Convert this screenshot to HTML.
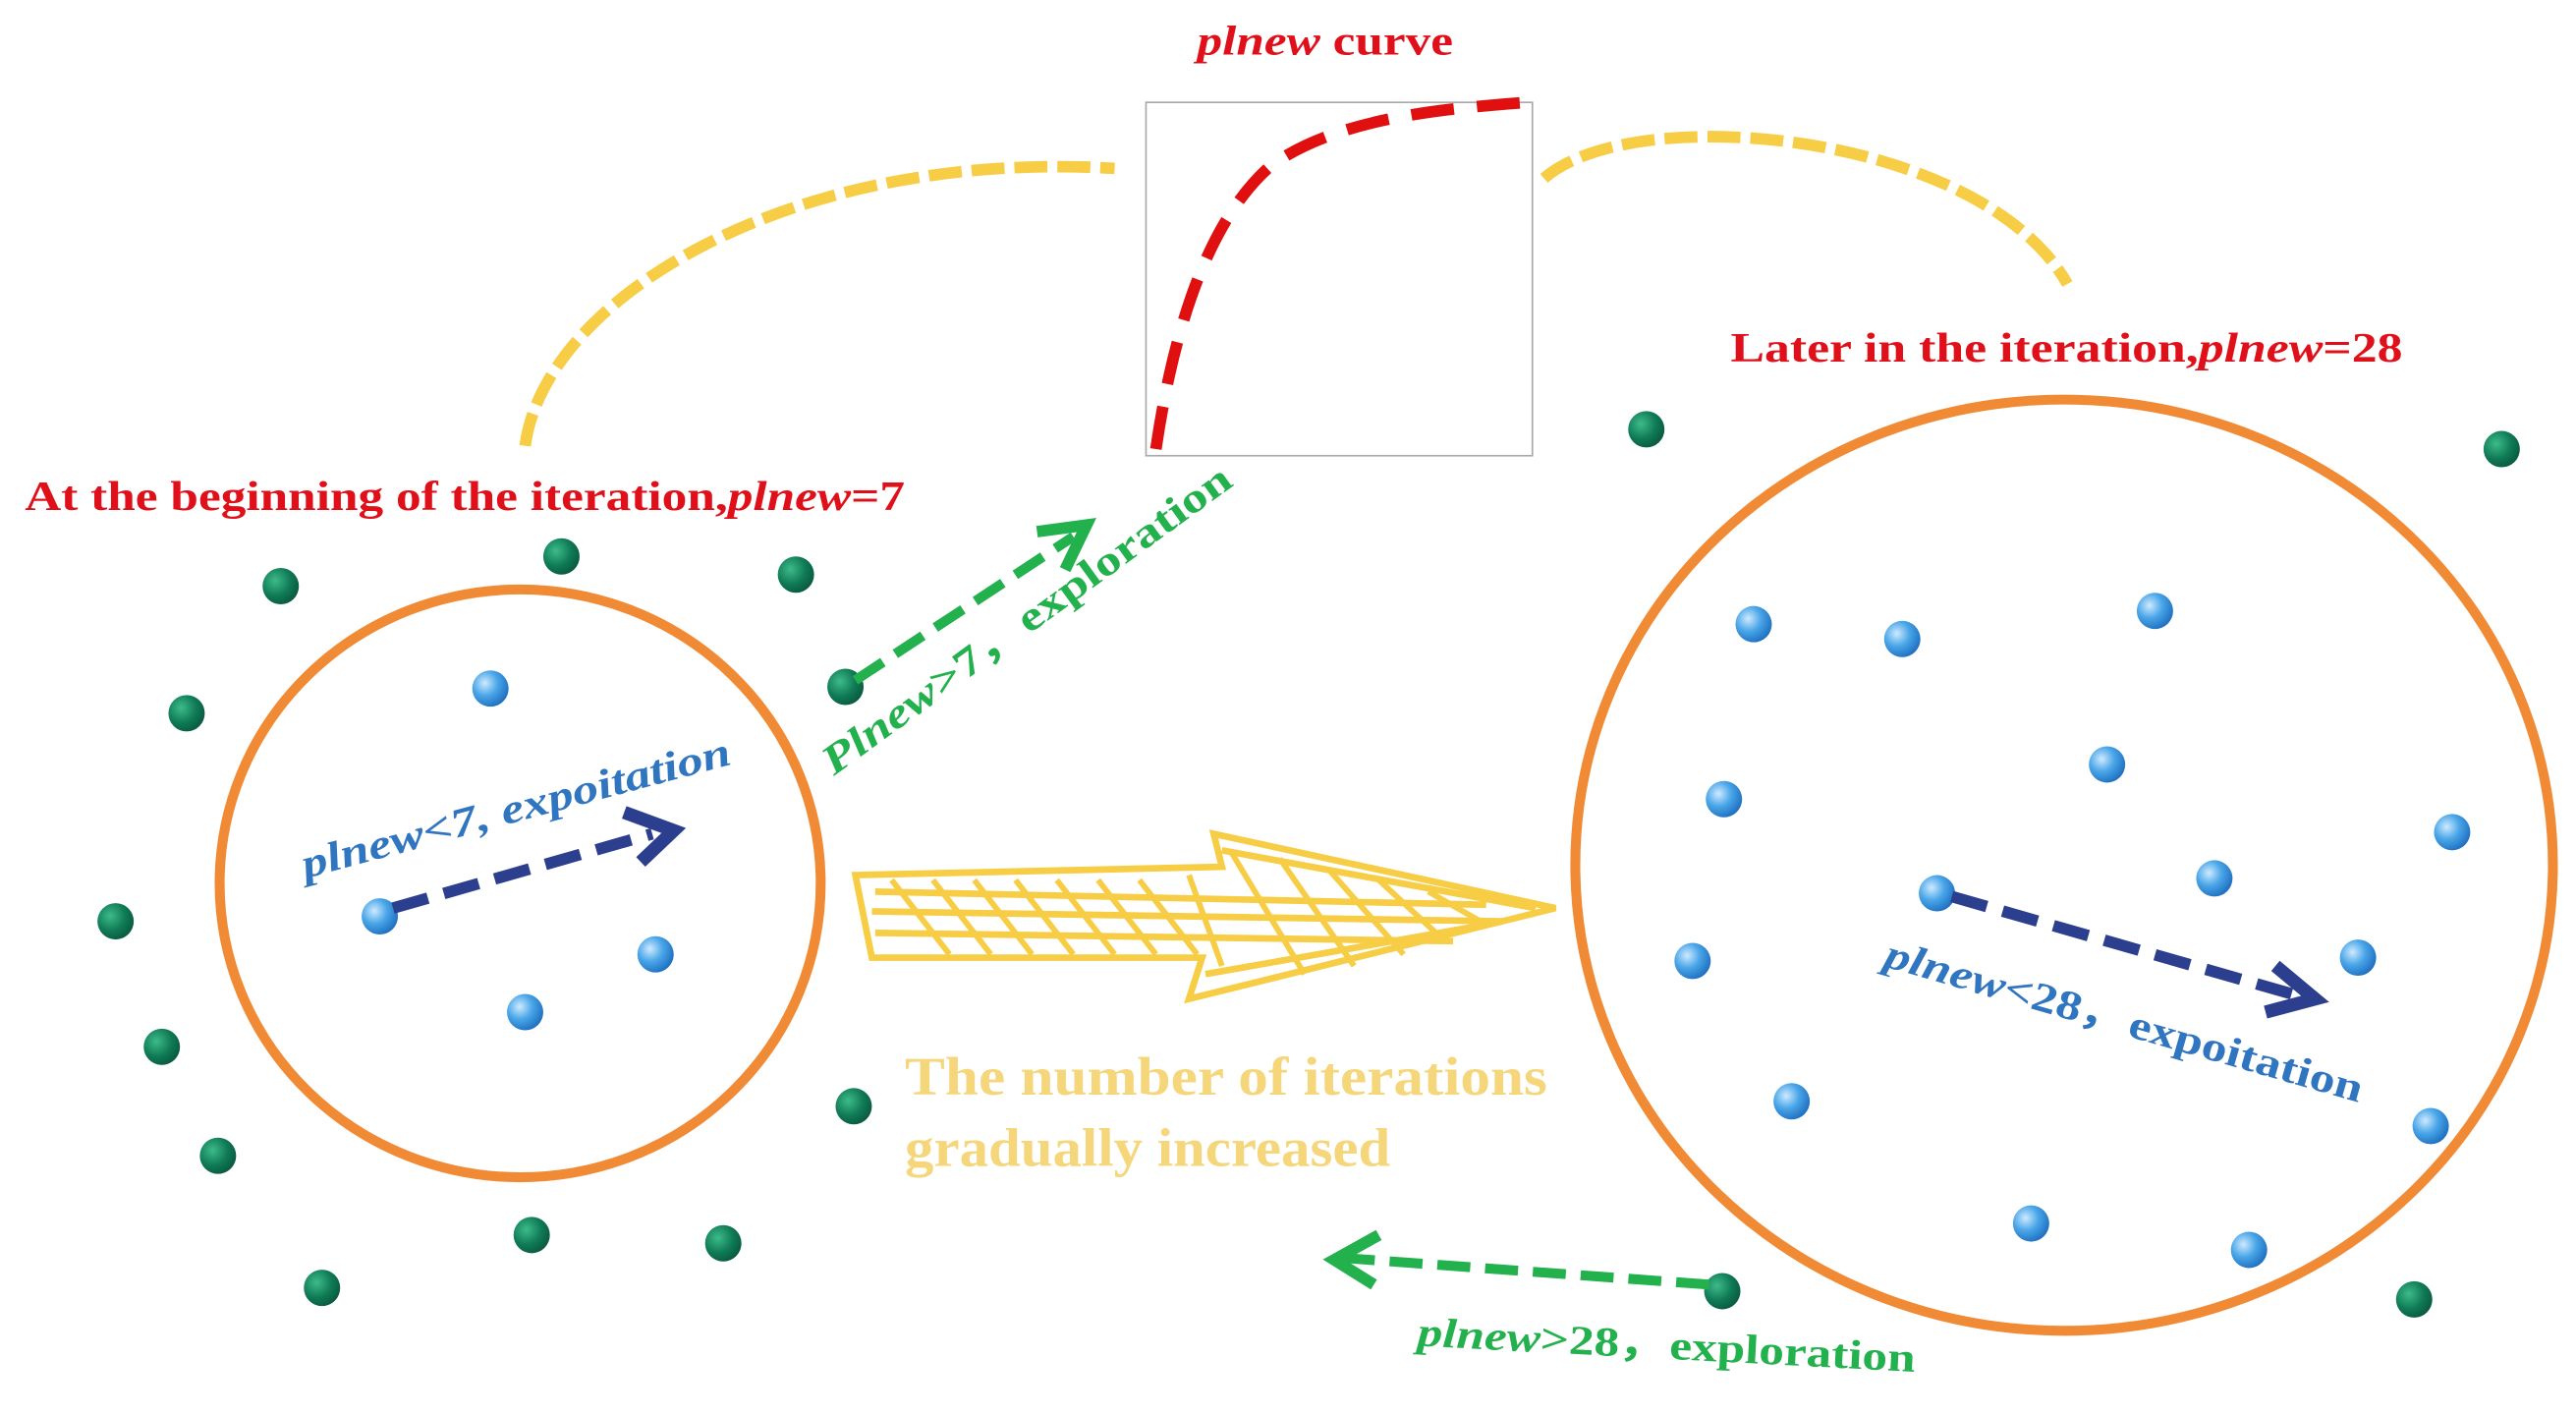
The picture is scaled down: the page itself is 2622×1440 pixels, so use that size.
<!DOCTYPE html>
<html><head><meta charset="utf-8"><style>html,body{margin:0;padding:0;background:#fff}svg{display:block}</style></head>
<body>
<svg width="2622" height="1440" viewBox="0 0 1560 857" preserveAspectRatio="none" xmlns="http://www.w3.org/2000/svg" font-family="Liberation Serif, serif" font-weight="bold">
<defs>
<radialGradient id="g" cx="35%" cy="35%" r="70%"><stop offset="0" stop-color="#3dbb8a"/><stop offset="0.6" stop-color="#0f7a55"/><stop offset="1" stop-color="#0a5a40"/></radialGradient>
<radialGradient id="b" cx="35%" cy="35%" r="70%"><stop offset="0" stop-color="#cfeaff"/><stop offset="0.5" stop-color="#4aa6e8"/><stop offset="1" stop-color="#1e6fc0"/></radialGradient>
</defs>
<!-- chart -->
<rect x="694" y="62" width="234" height="214" fill="#fff" stroke="#aaa" stroke-width="1"/>
<path d="M700 272 C712 190 735 130 770 100 C810 72 870 66 925 62" fill="none" stroke="#e01010" stroke-width="7" stroke-dasharray="26 14"/>
<text x="725" y="33" font-size="25" textLength="155" lengthAdjust="spacingAndGlyphs" fill="#e0101a"><tspan font-style="italic">plnew</tspan> curve</text>
<!-- yellow arcs -->
<path d="M318 270 C330 180 480 90 675 102" fill="none" stroke="#f7cd45" stroke-width="7" stroke-dasharray="20 6"/>
<path d="M935 108 C990 60 1200 80 1252 172" fill="none" stroke="#f7cd45" stroke-width="7" stroke-dasharray="20 6"/>
<!-- titles -->
<text x="15" y="309" font-size="25" textLength="533" lengthAdjust="spacingAndGlyphs" fill="#e0101a">At the beginning of the iteration,<tspan font-style="italic">plnew</tspan>=7</text>
<text x="1048" y="219" font-size="25" textLength="407" lengthAdjust="spacingAndGlyphs" fill="#e0101a">Later in the iteration,<tspan font-style="italic">plnew</tspan>=28</text>
<!-- circles -->
<ellipse cx="315" cy="535" rx="182" ry="178" fill="none" stroke="#f08a35" stroke-width="6"/>
<ellipse cx="1250" cy="524" rx="296" ry="282" fill="none" stroke="#f08a35" stroke-width="6"/>
<!-- green dots -->
<g fill="url(#g)">
<circle cx="170" cy="355" r="11"/><circle cx="340" cy="337" r="11"/><circle cx="482" cy="348" r="11"/><circle cx="113" cy="432" r="11"/><circle cx="70" cy="558" r="11"/><circle cx="98" cy="634" r="11"/><circle cx="132" cy="700" r="11"/><circle cx="195" cy="780" r="11"/><circle cx="322" cy="748" r="11"/><circle cx="438" cy="753" r="11"/><circle cx="517" cy="670" r="11"/><circle cx="512" cy="416" r="11"/><circle cx="997" cy="260" r="11"/><circle cx="1515" cy="272" r="11"/><circle cx="1043" cy="782" r="11"/><circle cx="1462" cy="787" r="11"/>
</g>
<g fill="url(#b)">
<circle cx="297" cy="417" r="11"/><circle cx="230" cy="555" r="11"/><circle cx="397" cy="578" r="11"/><circle cx="318" cy="613" r="11"/>
<circle cx="1062" cy="378" r="11"/><circle cx="1152" cy="387" r="11"/><circle cx="1305" cy="370" r="11"/><circle cx="1276" cy="463" r="11"/><circle cx="1044" cy="484" r="11"/><circle cx="1485" cy="504" r="11"/><circle cx="1341" cy="532" r="11"/><circle cx="1173" cy="541" r="11"/><circle cx="1025" cy="582" r="11"/><circle cx="1428" cy="580" r="11"/><circle cx="1085" cy="667" r="11"/><circle cx="1472" cy="682" r="11"/><circle cx="1230" cy="741" r="11"/><circle cx="1362" cy="757" r="11"/>
</g>
<!-- blue arrows -->
<g stroke="#2c3f8f" stroke-width="7" fill="none">
<path d="M238 550 L395 505" stroke-dasharray="22 10"/>
<path d="M378 492 L408 503 L388 522" stroke-width="8"/>
<path d="M1182 543 L1388 602" stroke-dasharray="22 10"/>
<path d="M1378 585 L1402 605 L1372 613" stroke-width="8"/>
</g>
<text transform="translate(185 532) rotate(-15)" font-size="25" textLength="268" lengthAdjust="spacingAndGlyphs" fill="#2f75c0" font-style="italic">plnew&lt;7, expoitation</text>
<text transform="translate(1140 585) rotate(16)" font-size="25" textLength="300" lengthAdjust="spacingAndGlyphs" fill="#2f75c0"><tspan font-style="italic">plnew</tspan>&lt;28，expoitation</text>
<!-- green arrows -->
<g stroke="#22b14c" stroke-width="6" fill="none">
<path d="M518 412 L650 325" stroke-dasharray="20 9"/>
<path d="M628 322 L658 318 L645 345" stroke-width="7"/>
<path d="M1035 778 L815 762" stroke-dasharray="20 9"/>
<path d="M835 748 L808 763 L832 778" stroke-width="7"/>
</g>
<text transform="translate(505 470) rotate(-36)" font-size="25" textLength="300" lengthAdjust="spacingAndGlyphs" fill="#22b14c"><tspan font-style="italic">Plnew</tspan>&gt;7，exploration</text>
<text transform="translate(858 815) rotate(3)" font-size="25" textLength="302" lengthAdjust="spacingAndGlyphs" fill="#22b14c"><tspan font-style="italic">plnew</tspan>&gt;28，exploration</text>
<!-- big yellow arrow -->
<g stroke="#f7cd45" stroke-width="4" fill="none">
<path d="M518 530 L740 525 L735 505 L942 550 L720 605 L728 580 L528 580 Z"/>
<path d="M530 540 L900 548 M528 552 L910 558 M530 565 L880 570 M740 515 L930 550 M730 590 L900 560"/>
<path d="M540 533 L575 578 M565 533 L600 578 M590 533 L625 578 M615 533 L650 578 M640 533 L675 578 M665 533 L700 578 M690 533 L725 578 M745 515 L790 590 M775 520 L820 585 M805 527 L850 578 M835 533 L875 570 M865 540 L900 560 M720 530 L740 585" stroke-width="3.5"/>
</g>
<text x="548" y="663" font-size="33" textLength="389" lengthAdjust="spacingAndGlyphs" fill="#f5d67a">The number of iterations</text>
<text x="548" y="706" font-size="33" textLength="294" lengthAdjust="spacingAndGlyphs" fill="#f5d67a">gradually increased</text>
</svg>
</body></html>
